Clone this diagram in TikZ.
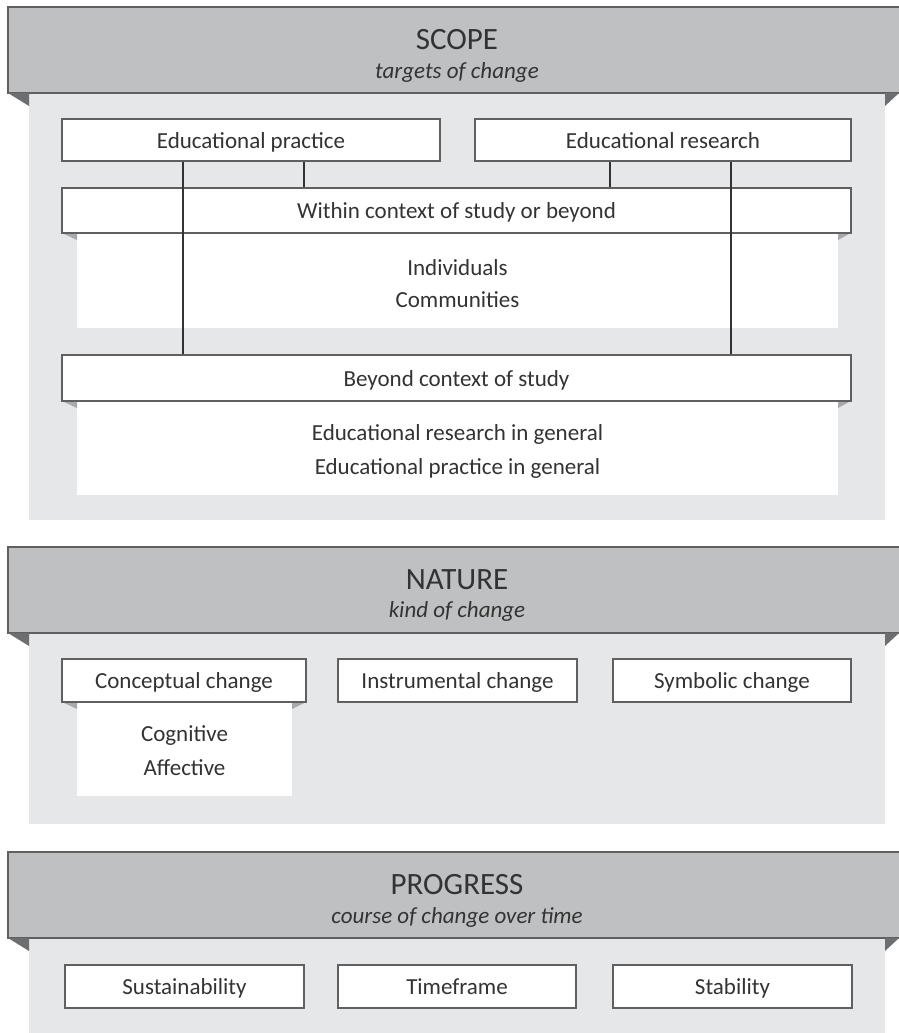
\documentclass[tikz,border=0pt]{standalone}
\usepackage{fontspec}
\setmainfont{Carlito}
\definecolor{hdr}{HTML}{BFC0C2}
\definecolor{bodyc}{HTML}{E6E7E8}
\definecolor{fold}{HTML}{6D6E70}
\definecolor{foldl}{HTML}{A7A9AC}
\definecolor{edge}{HTML}{606060}
\definecolor{txt}{HTML}{333333}
\tikzset{
  hdrbox/.style={fill=hdr,draw=edge,line width=1.2pt},
  item/.style={draw=edge,fill=white,line width=1.1pt,inner sep=0pt,text=txt,
    font=\fontsize{23}{27}\selectfont,text height=18pt,text depth=2pt},
  plain/.style={inner sep=0pt,text=txt,font=\fontsize{23}{27}\selectfont,text height=18pt,text depth=2pt},
  title/.style={inner sep=0pt,text=txt,font=\fontsize{31}{34}\selectfont},
  subtitle/.style={inner sep=0pt,text=txt,font=\fontsize{23}{27}\itshape\selectfont},
  link/.style={draw=txt,line width=2pt}
}
\begin{document}
\begin{tikzpicture}[x=1pt,y=-1pt]
\useasboundingbox (0,0) rectangle (899,1033);
\clip (0,0) rectangle (899,1033);
% ---------- panel 1 ----------
\fill[bodyc] (29,93) rectangle (885,520);
\fill[white] (77,233) rectangle (838,328);
\fill[white] (77,401) rectangle (838,495);
\draw[hdrbox] (8,7) rectangle (910,93);
\fill[fold] (8,93) -- (29,93) -- (29,106) -- cycle;
\fill[fold] (885,93) -- (899,93) -- (885,106) -- cycle;
\node[title] (scope) at (457,40) {SCOPE};
\node[subtitle] (scopesub) at (457,72) {targets of change};
\fill[foldl] (62,233) -- (77,233) -- (77,240) -- cycle;
\fill[foldl] (851,233) -- (838,233) -- (838,240) -- cycle;
\fill[foldl] (62,401) -- (77,401) -- (77,408) -- cycle;
\fill[foldl] (851,401) -- (838,401) -- (838,408) -- cycle;
\node[item,minimum width=378,minimum height=42] (prac) at (251,140) {Educational practice};
\node[item,minimum width=376,minimum height=42] (res) at (663,140) {Educational research};
\node[item,minimum width=789,minimum height=45] (within) at (456.5,210.5) {Within context of study or beyond};
\node[plain] (indiv) at (457.5,267) {Individuals};
\node[plain] (comm) at (457.5,299) {Communities};
\node[item,minimum width=789,minimum height=46] (beyond) at (456.5,378) {Beyond context of study};
\node[plain] (erg) at (457.5,432) {Educational research in general};
\node[plain] (epg) at (457.5,466) {Educational practice in general};
\coordinate (x1) at (183,0);
\coordinate (x2) at (304,0);
\coordinate (x3) at (610,0);
\coordinate (x4) at (731,0);
\draw[link] (prac.south -| x1) -- (beyond.north -| x1);
\draw[link] (prac.south -| x2) -- (within.north -| x2);
\draw[link] (res.south -| x3) -- (within.north -| x3);
\draw[link] (res.south -| x4) -- (beyond.north -| x4);
% ---------- panel 2 ----------
\fill[bodyc] (29,633) rectangle (885,824);
\fill[white] (77,702) rectangle (292,796);
\draw[hdrbox] (8,547) rectangle (910,633);
\fill[fold] (8,633) -- (29,633) -- (29,646) -- cycle;
\fill[fold] (885,633) -- (899,633) -- (885,646) -- cycle;
\node[title] (nature) at (457,580) {NATURE};
\node[subtitle] (naturesub) at (457,611) {kind of change};
\fill[foldl] (62,702) -- (77,702) -- (77,709) -- cycle;
\fill[foldl] (306,702) -- (292,702) -- (292,709) -- cycle;
\node[item,minimum width=244,minimum height=43] (concept) at (184,680.5) {Conceptual change};
\node[item,minimum width=239,minimum height=43] (instr) at (457.5,680.5) {Instrumental change};
\node[item,minimum width=238,minimum height=43] (symb) at (732,680.5) {Symbolic change};
\node[plain] (cog) at (184.5,733) {Cognitive};
\node[plain] (aff) at (184.5,767) {Affective};
% ---------- panel 3 ----------
\fill[bodyc] (29,938) rectangle (885,1040);
\draw[hdrbox] (8,852) rectangle (910,938);
\fill[fold] (8,938) -- (29,938) -- (29,951) -- cycle;
\fill[fold] (885,938) -- (899,938) -- (885,951) -- cycle;
\node[title] (progress) at (457,885) {PROGRESS};
\node[subtitle] (progresssub) at (457,917) {course of change over time};
\node[item,minimum width=239,minimum height=43] (sust) at (184.5,986.5) {Sustainability};
\node[item,minimum width=238,minimum height=43] (time) at (457,986.5) {Timeframe};
\node[item,minimum width=239,minimum height=43] (stab) at (732.5,986.5) {Stability};
\end{tikzpicture}
\end{document}
